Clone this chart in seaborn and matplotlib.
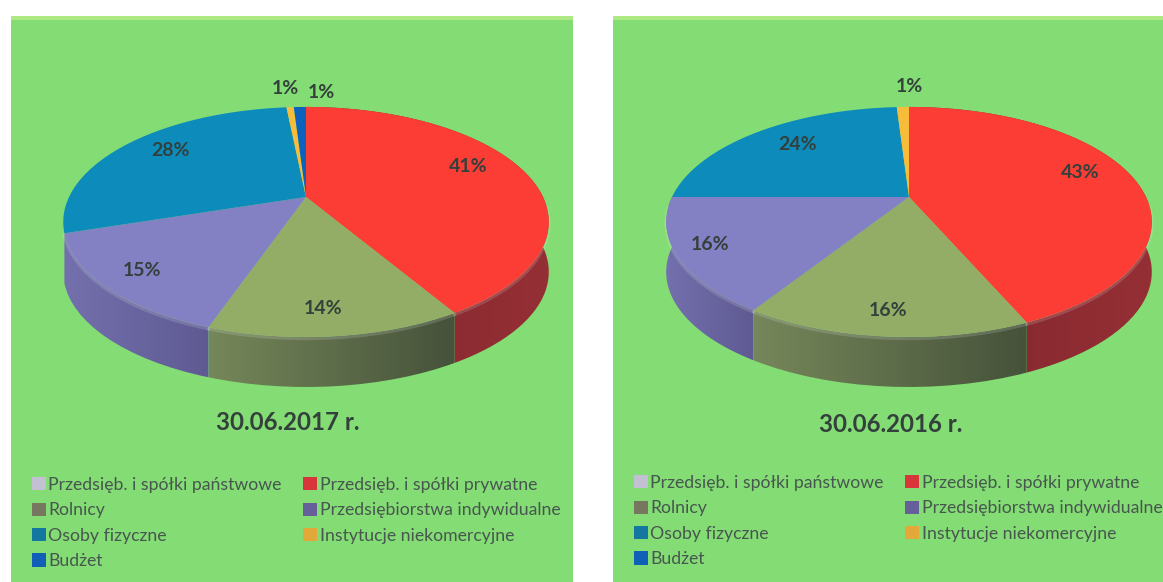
import numpy as np
import matplotlib
matplotlib.use('Agg')
import matplotlib.pyplot as plt
import seaborn as sns
from matplotlib.patches import Patch
from matplotlib.path import Path
from matplotlib.transforms import Affine2D

# data
categories = ['Przedsięb. i spółki państwowe', 'Przedsięb. i spółki prywatne', 'Rolnicy',
              'Przedsiębiorstwa indywidualne', 'Osoby fizyczne', 'Instytucje niekomercyjne', 'Budżet']
values_2017 = [0, 41.49, 13.81, 14.7, 28.4, 0.6, 1]
values_2016 = [0, 43.49, 15.51, 16, 24, 1, 0]
titles = ['30.06.2017 r.', '30.06.2016 r.']

# legend reads across in the picture, matplotlib fills columns first
legend_order = [0, 2, 4, 6, 1, 3, 5]

# colours
top_colors = sns.color_palette(['#d8d4e6', '#fb3d35', '#93ad66', '#8480c4', '#0d8cbc', '#f7bd3a', '#0c62bd'])
legend_colors = sns.color_palette(['#c4c0d4', '#d8363a', '#77775f', '#66609a', '#14779f', '#e2a93a', '#1060b8'])
side_left = ['#a8a4b8', '#7f262d', '#75875a', '#7370ad', '#0b6f96', '#c89a30', '#0a4f98']
side_right = ['#a8a4b8', '#942f35', '#46523a', '#5f5a92', '#0b6f96', '#c89a30', '#0a4f98']
bg_color = '#84dc74'
bevel_color = '#aeea84'
text_color = '#33403b'
legend_text = '#47564f'

sns.set_theme(style='white')
plt.rcParams['font.family'] = ['Lato', 'DejaVu Sans']

# perspective of the tilted disc, in pixels around the apex
FX, FY, S = 237, 109.6, 0.217
APEX_Y = 197
DEPTH = 50


def project(pts, cx, drop=0):
    w = 1 + S * pts[:, 1]
    return np.column_stack([cx + FX * pts[:, 0] / w, APEX_Y + drop - FY * pts[:, 1] / w])


def pct_label(p):
    return '%.0f%%' % p if p > 0 else ''


def draw_panel(ax, x0, x1, cx, values, title, title_x, title_y, label_xy, legend_xy):
    wedges, _, autotexts = ax.pie(values, colors=top_colors, startangle=90, counterclock=False,
                                  autopct=pct_label, textprops={'fontsize': 14, 'fontweight': 'bold', 'color': text_color})
    for i, w in enumerate(wedges):
        if values[i] == 0:
            w.set_visible(False)
            continue
        verts = w.get_path().to_polygons(Affine2D().scale(400))[0] / 400
        norm = np.hypot(verts[:, 0], verts[:, 1])
        rim = verts[:np.argmax(norm < 0.5)]

        # side wall, shaded from left to right (the back slices never show one)
        if i <= 3:
            upper = project(rim, cx)
            lower = project(rim, cx, DEPTH)[::-1]
            side = ax.fill(np.r_[upper[:, 0], lower[:, 0]], np.r_[upper[:, 1], lower[:, 1]],
                           facecolor='none', edgecolor='none', zorder=1)[0]
            grad = np.linspace(matplotlib.colors.to_rgb(side_left[i]), matplotlib.colors.to_rgb(side_right[i]), 64)[None, :, :]
            im = ax.imshow(grad, extent=(upper[:, 0].min(), upper[:, 0].max(), 582, 16), aspect='auto', zorder=1)
            im.set_clip_path(side)

            front = rim[:, 1] < -0.05
            p = project(rim[front], cx, 1.5)
            ax.plot(p[:, 0], p[:, 1], color='white', alpha=0.15, lw=2.5, zorder=1.5)

        # top face: the pie's own wedge, moved onto the tilted disc
        w._path = Path(project(verts, cx), closed=False)
        w.set_zorder(2)
        w.set_linewidth(0)

    for t, xy in zip(autotexts, label_xy):
        if xy is not None:
            t.set_position(xy)
            t.set_zorder(5)

    ax.set_aspect('auto')
    ax.set_xlim(x0, x1)
    ax.set_ylim(582, 16)
    ax.set_frame_on(True)
    ax.set_facecolor(bg_color)
    sns.despine(ax=ax, left=True, bottom=True)
    ax.axhspan(16, 20, color=bevel_color, lw=0, zorder=0.5)

    ax.text(title_x, title_y, title, fontsize=17.3, fontweight='bold', color=text_color, ha='center', va='center')

    handles = [Patch(facecolor=legend_colors[i], edgecolor='none') for i in legend_order]
    labels = [categories[i] for i in legend_order]
    ax.legend(handles, labels, ncol=2, loc='upper left', bbox_to_anchor=legend_xy, bbox_transform=ax.transData,
              frameon=False, fontsize=12.7, labelcolor=legend_text, handlelength=0.78, handleheight=0.78,
              handletextpad=0.15, labelspacing=0.53, columnspacing=1.22, borderpad=0, borderaxespad=0)


fig = plt.figure(figsize=(11.63, 5.82), dpi=100, facecolor='white')
ax_left = fig.add_axes([11 / 1163, 0, 562 / 1163, 566 / 582])
ax_right = fig.add_axes([613 / 1163, 0, 550 / 1163, 566 / 582])

draw_panel(ax_left, 11, 573, 306, values_2017, titles[0], 288, 422,
           [None, (468, 166), (323, 309), (142, 271), (171, 150), (285, 89), (321, 92)], (32, 477))
draw_panel(ax_right, 613, 1163, 909, values_2016, titles[1], 891, 424,
           [None, (1080, 172), (888, 310), (710, 245), (798, 144), (909, 87), None], (634, 475))

fig.savefig('out.png', dpi=100)
